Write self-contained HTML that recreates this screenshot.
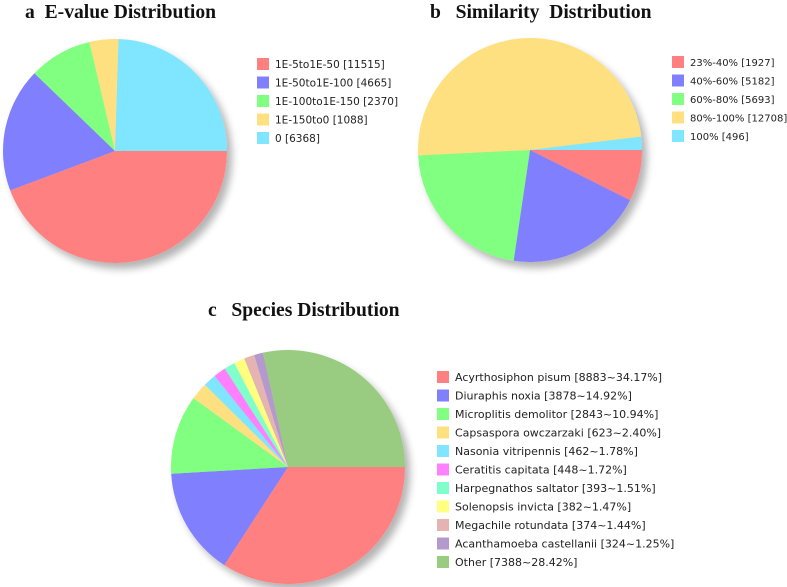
<!DOCTYPE html>
<html><head><meta charset="utf-8"><style>
body{margin:0;background:#fff;width:787px;height:587px;overflow:hidden}
svg{display:block}
.t{font-family:"Liberation Serif",serif;font-weight:bold;font-size:19.6px;fill:#111;white-space:pre}
.l{font-family:"DejaVu Sans","Liberation Sans",sans-serif;font-size:10.5px;fill:#222}
.lb{font-family:"DejaVu Sans","Liberation Sans",sans-serif;font-size:10px;fill:#222}
.lc{font-family:"DejaVu Sans","Liberation Sans",sans-serif;font-size:11px;fill:#222}
</style></head><body>
<svg id="root" width="787" height="587">
<defs><filter id="sh" x="-20%" y="-20%" width="150%" height="150%"><feGaussianBlur in="SourceAlpha" stdDeviation="4"/><feOffset dx="5" dy="6"/><feComponentTransfer><feFuncA type="linear" slope="0.3"/></feComponentTransfer><feMerge><feMergeNode/><feMergeNode in="SourceGraphic"/></feMerge></filter></defs>
<text class="t" x="25" y="18" xml:space="preserve">a  E-value Distribution</text>
<text class="t" x="430" y="18" xml:space="preserve">b   Similarity  Distribution</text>
<text class="t" x="208" y="316" xml:space="preserve">c   Species Distribution</text>
</svg>
<script>
const aLabels=["1E-5to1E-50 [11515]","1E-50to1E-100 [4665]","1E-100to1E-150 [2370]","1E-150to0 [1088]","0 [6368]"];
const aValues=[11515,4665,2370,1088,6368];
const bLabels=["23%-40% [1927]","40%-60% [5182]","60%-80% [5693]","80%-100% [12708]","100% [496]"];
const bValues=[1927,5182,5693,12708,496];
const cLabels=["Acyrthosiphon pisum [8883~34.17%]","Diuraphis noxia [3878~14.92%]","Microplitis demolitor [2843~10.94%]","Capsaspora owczarzaki [623~2.40%]","Nasonia vitripennis [462~1.78%]","Ceratitis capitata [448~1.72%]","Harpegnathos saltator [393~1.51%]","Solenopsis invicta [382~1.47%]","Megachile rotundata [374~1.44%]","Acanthamoeba castellanii [324~1.25%]","Other [7388~28.42%]"];
const cValues=[8883,3878,2843,623,462,448,393,382,374,324,7388];
const colors=["#ff8080","#8080ff","#80ff80","#ffe080","#80e5ff","#ff80ff","#80ffcc","#ffff80","#e6b3b3","#b399cc","#99cc80"];
const NS="http://www.w3.org/2000/svg";
const root=document.getElementById('root');
function mk(t,a){const e=document.createElementNS(NS,t);for(const k in a)e.setAttribute(k,a[k]);return e;}
function pie(name,vals,labels,cx,cy,r,lx,ly,dy,cls){
  const g=mk('g',{filter:'url(#sh)'});
  
  
  root.appendChild(g);
  const tot=vals.reduce((s,v)=>s+v,0);let a=0;
  vals.forEach((v,i)=>{
    const a0=a/tot*2*Math.PI;a+=v;const a1=a/tot*2*Math.PI;
    const x0=cx+r*Math.cos(a0),y0=cy+r*Math.sin(a0),x1=cx+r*Math.cos(a1),y1=cy+r*Math.sin(a1);
    const p=mk('path',{d:`M${cx},${cy}L${x0},${y0}A${r},${r} 0 ${a1-a0>Math.PI?1:0} 1 ${x1},${y1}Z`,fill:colors[i]});
    
    
    g.appendChild(p);
  });
  labels.forEach((t,i)=>{
    const y=ly+i*dy;
    const s=mk('rect',{x:lx,y:y-6,width:12,height:12,fill:colors[i]});
    
    
    root.appendChild(s);
    const tx=mk('text',{x:lx+18,y:y+4,class:cls});tx.textContent=t;
    
    
    root.appendChild(tx);
  });
}
pie('evalue',aValues,aLabels,115,151,112,257,64,18.5,'l');
pie('similarity',bValues,bLabels,530,150,112,672,62,18.5,'lb');
pie('species',cValues,cLabels,288,467,117,437,377,18.5,'lc');
</script>
</body></html>
